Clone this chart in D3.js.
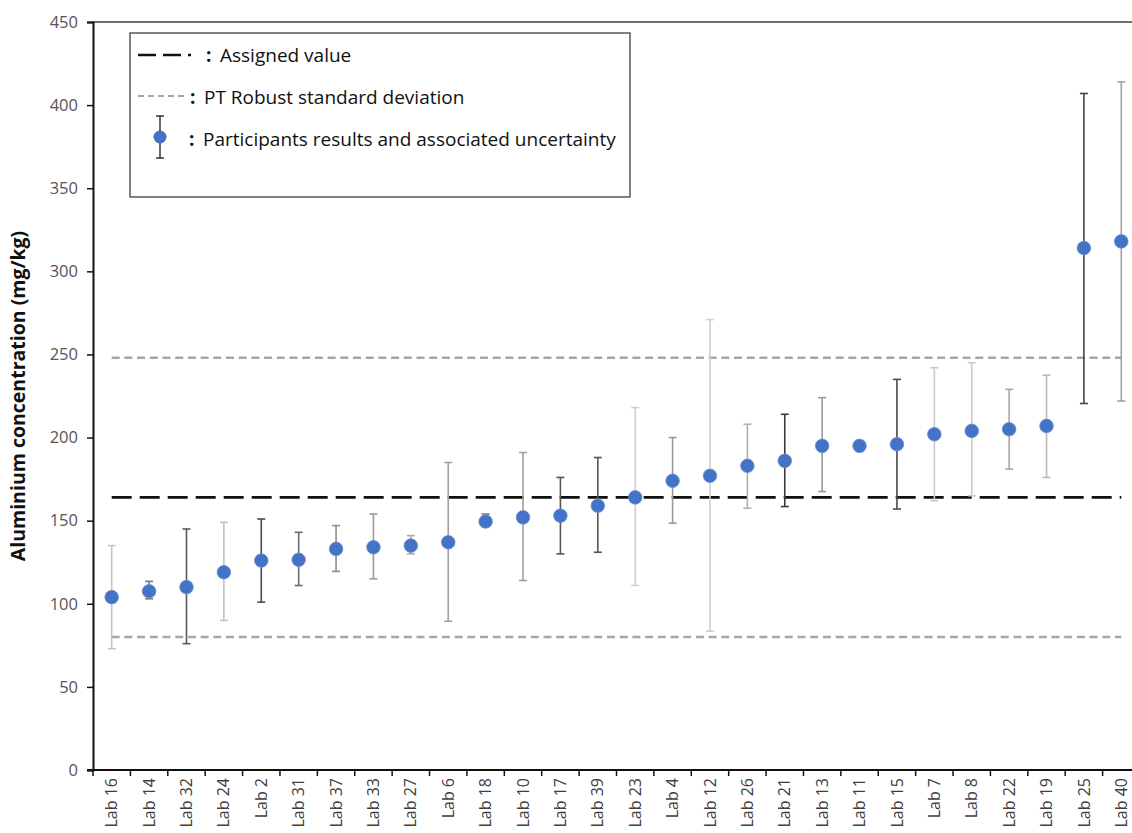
<!DOCTYPE html>
<html>
<head>
<meta charset="utf-8">
<script src="https://cdn.jsdelivr.net/npm/d3@7"></script>
<style>
  body { margin: 0; background: #fff; }
  svg { display: block; font-family: "Open Sans", sans-serif; }
</style>
</head>
<body>
<svg width="1132" height="833"></svg>
<script>
const svg = d3.select("svg");
const margin = { top: 22, right: -8, bottom: 63, left: 93 };
const width = +svg.attr("width");
const height = +svg.attr("height");

const labs = ["Lab 16", "Lab 14", "Lab 32", "Lab 24", "Lab 2", "Lab 31", "Lab 37", "Lab 33",
  "Lab 27", "Lab 6", "Lab 18", "Lab 10", "Lab 17", "Lab 39", "Lab 23", "Lab 4", "Lab 12",
  "Lab 26", "Lab 21", "Lab 13", "Lab 11", "Lab 15", "Lab 7", "Lab 8", "Lab 22", "Lab 19",
  "Lab 25", "Lab 40"];
const results = [104, 107.5, 110, 119, 126, 126.5, 133, 134, 135, 137, 149.5, 152, 153, 159,
  164, 174, 177, 183, 186, 195, 195, 196, 202, 204, 205, 207, 314, 318];
const upper = [135, 113.5, 145, 149, 151, 143, 147, 154, 141, 185, 154, 191, 176, 188,
  218, 200, 271, 208, 214, 224, null, 235, 242, 245, 229, 237.5, 407, 414];
const lower = [73, 103, 76, 90, 101, 111, 119.5, 115, 130, 89.5, 146.5, 114, 130, 131,
  111, 148.5, 83.5, 157.5, 158.5, 167.5, null, 157, 162, 165, 181, 176, 220.5, 222];
const assignedValue = 164;
const robustSdLimits = [80, 248];
const yTicks = [0, 50, 100, 150, 200, 250, 300, 350, 400, 450];

// error bar shades, as in the original figure
const barColors = ["#c4c4c4", "#7a7a7a", "#5a5a5a", "#c0c0c0", "#4a4a4a", "#6a6a6a", "#8c8c8c",
  "#9a9a9a", "#ababab", "#a0a0a0", "#7a7a7a", "#a0a0a0", "#555", "#555", "#cfcfcf", "#9a9a9a",
  "#cfcfcf", "#b0b0b0", "#3a3a3a", "#9a9a9a", "#999", "#4a4a4a", "#cacaca", "#cacaca",
  "#a8a8a8", "#b8b8b8", "#444", "#a0a0a0"];

const data = labs.map((lab, i) => ({
  lab, value: results[i], hi: upper[i], lo: lower[i], color: barColors[i],
}));

const x0 = margin.left;
const x1 = width - margin.right;
const y0 = height - margin.bottom;

const xScale = d3.scaleBand().domain(labs).range([x0, x1]).padding(0);
const yScale = d3.scaleLinear().domain([0, 450]).range([y0, margin.top]);
const cx = (d) => xScale(d) + xScale.bandwidth() / 2;

// plot frame (top)
svg.append("line")
  .attr("x1", x0).attr("x2", x1)
  .attr("y1", margin.top).attr("y2", margin.top)
  .attr("stroke", "#404040").attr("stroke-width", 1.5);

// reference lines
const firstX = cx(labs[0]);
const lastX = cx(labs[labs.length - 1]);
svg.selectAll("line.sd")
  .data(robustSdLimits)
  .enter()
  .append("line")
  .attr("class", "sd")
  .attr("x1", firstX).attr("x2", lastX)
  .attr("y1", (d) => yScale(d)).attr("y2", (d) => yScale(d))
  .attr("stroke", "#a6a6a6").attr("stroke-width", 2.5)
  .attr("stroke-dasharray", "8,4.7");

svg.append("line")
  .attr("x1", firstX).attr("x2", lastX)
  .attr("y1", yScale(assignedValue)).attr("y2", yScale(assignedValue))
  .attr("stroke", "#111").attr("stroke-width", 2.6)
  .attr("stroke-dasharray", "20,8");

// error bars
const barG = svg.selectAll("g.bar")
  .data(data.filter((d) => d.hi != null))
  .enter()
  .append("g")
  .attr("class", "bar")
  .attr("stroke", (d) => d.color)
  .attr("stroke-width", 1.6);

barG.append("line")
  .attr("x1", (d) => cx(d.lab)).attr("x2", (d) => cx(d.lab))
  .attr("y1", (d) => yScale(d.hi)).attr("y2", (d) => yScale(d.lo));
barG.append("line")
  .attr("x1", (d) => cx(d.lab) - 4).attr("x2", (d) => cx(d.lab) + 4)
  .attr("y1", (d) => yScale(d.hi)).attr("y2", (d) => yScale(d.hi));
barG.append("line")
  .attr("x1", (d) => cx(d.lab) - 4).attr("x2", (d) => cx(d.lab) + 4)
  .attr("y1", (d) => yScale(d.lo)).attr("y2", (d) => yScale(d.lo));

// points
svg.selectAll("circle.pt")
  .data(data)
  .enter()
  .append("circle")
  .attr("class", "pt")
  .attr("cx", (d) => cx(d.lab))
  .attr("cy", (d) => yScale(d.value))
  .attr("r", 6.8)
  .attr("fill", "#4472c4")
  .attr("stroke", "#6a90d6")
  .attr("stroke-width", 0.8);

// y axis
const yAxis = d3.axisLeft(yScale).tickValues(yTicks).tickSize(6).tickPadding(9);
const yAxisG = svg.append("g")
  .attr("transform", `translate(${x0},0)`)
  .call(yAxis);
yAxisG.select(".domain").attr("stroke", "#111").attr("stroke-width", 2);
yAxisG.selectAll(".tick line").attr("stroke", "#111").attr("stroke-width", 1.5);
yAxisG.selectAll(".tick text")
  .attr("fill", "#555").attr("font-size", 16.5)
  .attr("font-family", "Open Sans, sans-serif");

// x axis: labels under band centres, ticks on band edges
const xAxis = d3.axisBottom(xScale).tickSize(0).tickPadding(8);
const xAxisG = svg.append("g")
  .attr("transform", `translate(0,${y0})`)
  .call(xAxis);
xAxisG.select(".domain").remove();
xAxisG.selectAll(".tick text")
  .attr("fill", "#404040").attr("font-size", 16)
  .attr("font-family", "Open Sans, sans-serif")
  .attr("transform", "rotate(-90)")
  .attr("x", -8).attr("y", 0).attr("dy", "0.35em")
  .attr("text-anchor", "end");

const edges = labs.map((d) => xScale(d)).concat([x1]);
svg.selectAll("line.xtick")
  .data(edges)
  .enter()
  .append("line")
  .attr("class", "xtick")
  .attr("x1", (d) => d).attr("x2", (d) => d)
  .attr("y1", y0).attr("y2", y0 + 6)
  .attr("stroke", "#111").attr("stroke-width", 1.5);
svg.append("line")
  .attr("x1", x0 - 6).attr("x2", x1)
  .attr("y1", y0).attr("y2", y0)
  .attr("stroke", "#111").attr("stroke-width", 2);

// y title
svg.append("text")
  .attr("transform", `translate(25,${(margin.top + y0) / 2}) rotate(-90)`)
  .attr("text-anchor", "middle")
  .attr("font-size", 19.5)
  .attr("font-weight", "bold")
  .attr("fill", "#111")
  .text("Aluminium concentration (mg/kg)");

// legend
const legend = svg.append("g");
legend.append("rect")
  .attr("x", 130).attr("y", 33)
  .attr("width", 500).attr("height", 164)
  .attr("fill", "#fff").attr("stroke", "#404040").attr("stroke-width", 1.3);

legend.append("line")
  .attr("x1", 138).attr("x2", 204).attr("y1", 55).attr("y2", 55)
  .attr("stroke", "#111").attr("stroke-width", 2.6)
  .attr("stroke-dasharray", "18,7,18,7,3,30");
legend.append("line")
  .attr("x1", 138).attr("x2", 188).attr("y1", 96).attr("y2", 96)
  .attr("stroke", "#a6a6a6").attr("stroke-width", 2)
  .attr("stroke-dasharray", "6,4");

legend.append("line")
  .attr("x1", 160).attr("x2", 160).attr("y1", 116).attr("y2", 158)
  .attr("stroke", "#333").attr("stroke-width", 1.5);
legend.append("line")
  .attr("x1", 156).attr("x2", 164).attr("y1", 116).attr("y2", 116)
  .attr("stroke", "#333").attr("stroke-width", 1.5);
legend.append("line")
  .attr("x1", 156).attr("x2", 164).attr("y1", 158).attr("y2", 158)
  .attr("stroke", "#333").attr("stroke-width", 1.5);
legend.append("circle")
  .attr("cx", 160).attr("cy", 137).attr("r", 6.5)
  .attr("fill", "#4472c4");

const legendItems = [
  { x: 206, y: 55, label: "Assigned value" },
  { x: 190, y: 97, label: "PT Robust standard deviation" },
  { x: 189, y: 139, label: "Participants results and associated uncertainty" },
];
const itemG = legend.selectAll("g.item")
  .data(legendItems)
  .enter()
  .append("g")
  .attr("class", "item")
  .attr("transform", (d) => `translate(${d.x},${d.y})`);
itemG.append("text")
  .attr("dy", "0.35em")
  .attr("font-size", 19)
  .attr("font-weight", "bold")
  .attr("fill", "#111")
  .text(":");
itemG.append("text")
  .attr("x", 14)
  .attr("dy", "0.35em")
  .attr("font-size", 19)
  .attr("fill", "#111")
  .text((d) => d.label);
</script>
</body>
</html>
